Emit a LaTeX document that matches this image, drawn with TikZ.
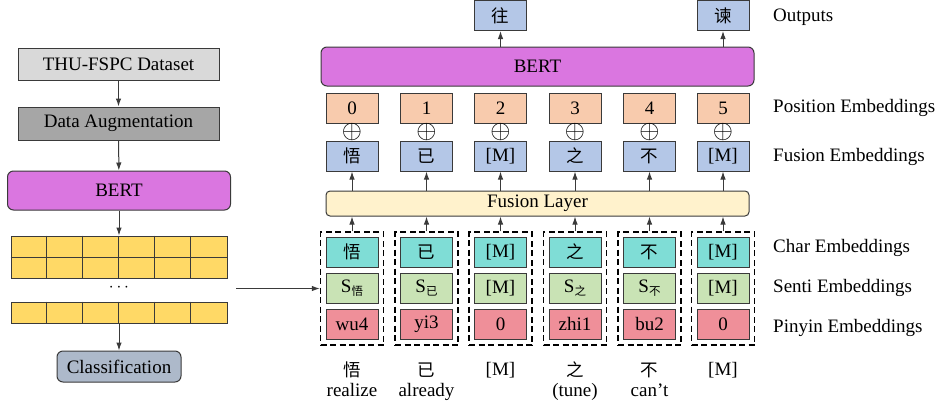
\documentclass[tikz,border=0pt]{standalone}
\usepackage{fontspec}
\setmainfont{Liberation Serif}
\newfontfamily\cjk{Noto Sans CJK SC}
\usetikzlibrary{arrows.meta}
\definecolor{grayA}{HTML}{D9D9D9}
\definecolor{grayB}{HTML}{A6A6A6}
\definecolor{bertc}{HTML}{DA76E0}
\definecolor{yelc}{HTML}{FFD966}
\definecolor{clsc}{HTML}{ADB9CA}
\definecolor{posc}{HTML}{F8CBAD}
\definecolor{fusc}{HTML}{B4C7E7}
\definecolor{charc}{HTML}{7FDDD6}
\definecolor{sentic}{HTML}{C9E3B5}
\definecolor{pinc}{HTML}{EF8F99}
\definecolor{flc}{HTML}{FFF2CC}
\definecolor{edgec}{HTML}{3A3A3A}
\newcommand{\zh}[1]{{\cjk\fontsize{17.5}{17.5}\selectfont #1}}
\newcommand{\ssub}[1]{S\raisebox{-3pt}{\cjk\fontsize{11.5}{11.5}\selectfont #1}}
\begin{document}
\begin{tikzpicture}[x=1pt,y=-1pt,
  font=\fontsize{19}{22}\selectfont,
  bx/.style={draw=edgec, line width=1pt, inner sep=0pt, minimum width=52pt, minimum height=30pt},
  rbx/.style={bx, rounded corners=6pt},
  dbox/.style={draw=black, line width=1.4pt, dash pattern=on 6pt off 3.5pt, minimum width=63pt, minimum height=113pt, inner sep=0pt},
  arr/.style={draw=edgec, line width=1pt, -{Latex[length=8pt,width=5.5pt]}},
  lbl/.style={anchor=west, inner sep=0pt},
  txt/.style={inner sep=0pt},
  plus/.style={inner sep=0pt}
]
\useasboundingbox (0,0) rectangle (939,407);

% ---------- left pipeline ----------
\node[bx, fill=grayA, minimum width=201pt, minimum height=32pt] (ds) at (118.5,64) {THU-FSPC Dataset};
\node[bx, fill=grayB, minimum width=201pt, minimum height=33pt] (da) at (118.5,123.5) {Data Augmentation};
\node[rbx, fill=bertc, minimum width=223pt, minimum height=39pt] (lbert) at (119,190.5) {BERT};
\node[bx, fill=yelc, minimum width=216pt, minimum height=42pt] (gtop) at (119,257) {};
\node[bx, fill=yelc, minimum width=216pt, minimum height=21pt] (gbot) at (119,312.5) {};
\foreach \i in {1,...,5}{
  \draw[edgec, line width=1pt] ([xshift=\i*36pt]gtop.north west) -- ([xshift=\i*36pt]gtop.south west);
  \draw[edgec, line width=1pt] ([xshift=\i*36pt]gbot.north west) -- ([xshift=\i*36pt]gbot.south west);
}
\draw[edgec, line width=1pt] (gtop.west) -- (gtop.east);
\node[txt] (dots) at (119,288) {$\cdots$};
\node[rbx, fill=clsc, minimum width=124pt, minimum height=31pt] (cls) at (119,366.5) {Classification};

\draw[arr] (ds) -- (da);
\draw[arr] (da) -- (lbert);
\draw[arr] (lbert) -- (gtop);
\draw[arr] (gbot) -- (cls);

% ---------- right model ----------
\node[rbx, fill=bertc, minimum width=433pt, minimum height=39pt] (bert) at (537.5,66.5) {BERT};
\node[rbx, fill=flc, minimum width=423pt, minimum height=25pt, rounded corners=4pt] (fl) at (537.5,203.5) {Fusion Layer};

\foreach \n/\x/\p/\f/\c/\s/\y/\wa/\wb in {
  1/352/0/\zh{悟}/\zh{悟}/\ssub{悟}/wu4/\zh{悟}/realize,
  2/426.5/1/\zh{已}/\zh{已}/\ssub{已}/yi3/\zh{已}/already,
  3/500.5/2/[M]/[M]/[M]/0/[M]/{},
  4/575/3/\zh{之}/\zh{之}/\ssub{之}/zhi1/\zh{之}/(tune),
  5/649.5/4/\zh{不}/\zh{不}/\ssub{不}/bu2/\zh{不}/can’t,
  6/723/5/[M]/[M]/[M]/0/[M]/{}}{
  \node[bx, fill=posc] (p\n) at (\x,108) {\p};
  \node[plus] (op\n) at (\x,132) {\scalebox{1.5}{$\oplus$}};
  \node[bx, fill=fusc] (f\n) at (\x,156) {\f};
  \node[dbox] (d\n) at (\x,288.5) {};
  \node[bx, fill=charc] (c\n) at (\x,252) {\c};
  \node[bx, fill=sentic] (s\n) at (\x,288) {\s};
  \node[bx, fill=pinc] (y\n) at (\x,324) {\y};
  \node[txt] (wa\n) at (\x,370) {\wa};
  \node[txt] (wb\n) at (\x,392) {\strut\wb};
  \draw[arr] (fl.north -| f\n) -- (f\n.south);
  \draw[arr] (d\n.north) -- (fl.south -| d\n);
}

\node[bx, fill=fusc] (o3) at (500.5,15.5) {\zh{往}};
\node[bx, fill=fusc] (o6) at (723,15.5) {\zh{谏}};
\draw[arr] (bert.north -| o3) -- (o3.south);
\draw[arr] (bert.north -| o6) -- (o6.south);

\coordinate (src) at (236,288.5);
\draw[arr] (src) -- (d1.west);

% ---------- row labels ----------
\node[lbl] (lo) at (773,17) {Outputs};
\node[lbl] (lp) at (773,108) {Position Embeddings};
\node[lbl] (lf) at (773,157) {Fusion Embeddings};
\node[lbl] (lc) at (773,248) {Char Embeddings};
\node[lbl] (ls) at (773,288) {Senti Embeddings};
\node[lbl] (ly) at (773,328) {Pinyin Embeddings};
\end{tikzpicture}
\end{document}
